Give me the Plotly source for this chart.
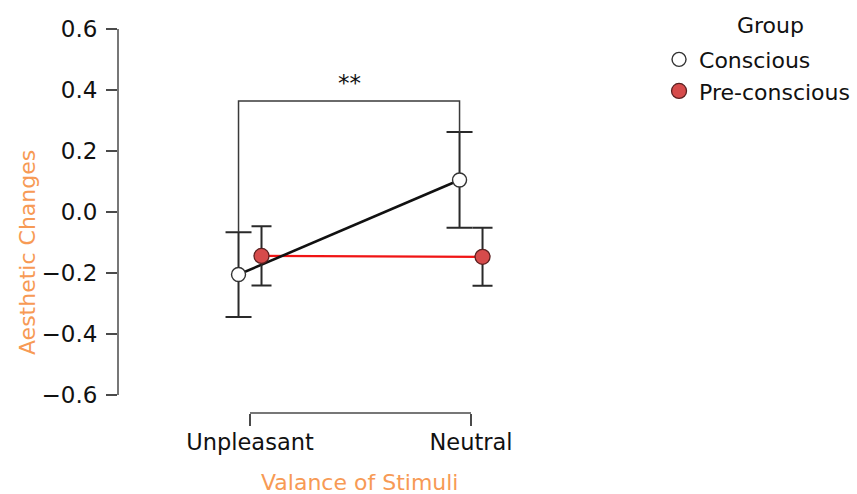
import plotly.graph_objects as go

# Valence conditions and group means with error bar half-widths
categories = ["Unpleasant", "Neutral"]
groups = ["Conscious", "Pre-conscious"]
legend_title = "Group"
conscious_mean = [-0.205, 0.105]
conscious_err = [0.139, 0.157]
preconscious_mean = [-0.144, -0.147]
preconscious_err = [0.097, 0.095]
y_ticks = [-0.6, -0.4, -0.2, 0.0, 0.2, 0.4, 0.6]
sig_label = "**"

# styling
FONT = "DejaVu Sans"
ORANGE = "#f79a55"
AXIS = "#4a4a4a"
RED_FILL = "#d64b4b"
RED_LINE = "#f01414"
DODGE = 0.052
BRACKET_Y = 0.364

cx = list(range(len(categories)))
x_con = [c - DODGE for c in cx]
x_pre = [c + DODGE for c in cx]

fig = go.Figure()

# connecting lines
fig.add_trace(go.Scatter(x=x_pre, y=preconscious_mean, mode="lines",
                         line=dict(color=RED_LINE, width=2.2), showlegend=False,
                         hoverinfo="skip"))
fig.add_trace(go.Scatter(x=x_con, y=conscious_mean, mode="lines",
                         line=dict(color="#111111", width=2.6), showlegend=False,
                         hoverinfo="skip"))

# points with error bars
fig.add_trace(go.Scatter(
    x=x_con, y=conscious_mean, mode="markers", name=groups[0],
    marker=dict(symbol="circle", size=14, color="white",
                line=dict(color="#333333", width=1.4)),
    error_y=dict(type="data", array=conscious_err, color="#2a2a2a",
                 thickness=2, width=13),
))
fig.add_trace(go.Scatter(
    x=x_pre, y=preconscious_mean, mode="markers", name=groups[1],
    marker=dict(symbol="circle", size=15, color=RED_FILL,
                line=dict(color="#5a2020", width=1.3)),
    error_y=dict(type="data", array=preconscious_err, color="#2a2a2a",
                 thickness=2, width=10),
))

shapes = []
# y axis line spanning only the tick range
shapes.append(dict(type="line", xref="paper", yref="y", x0=0, x1=0,
                   y0=y_ticks[0], y1=y_ticks[-1],
                   line=dict(color=AXIS, width=1.5)))
# x axis line spanning only the categories
shapes.append(dict(type="line", xref="x", yref="paper", x0=cx[0], x1=cx[-1],
                   y0=0, y1=0, line=dict(color=AXIS, width=1.5)))
# significance bracket between conscious Unpleasant and Neutral
left_top = conscious_mean[0] + conscious_err[0]
right_top = conscious_mean[1] + conscious_err[1]
shapes.append(dict(type="path", xref="x", yref="y",
                   path=f"M {x_con[0]} {left_top} L {x_con[0]} {BRACKET_Y} "
                        f"L {x_con[1]} {BRACKET_Y} L {x_con[1]} {right_top}",
                   line=dict(color="#3a3a3a", width=1.5)))

annotations = [
    dict(text=sig_label, x=(x_con[0] + x_con[1]) / 2, y=BRACKET_Y, xref="x", yref="y",
         yanchor="bottom", yshift=3, showarrow=False,
         font=dict(family=FONT, size=23, color="#111111")),
    dict(text="Aesthetic Changes", textangle=-90, xref="paper", yref="paper",
         x=0, xshift=-91, y=0.407, xanchor="center", yanchor="middle",
         showarrow=False, font=dict(family=FONT, size=22, color=ORANGE)),
    dict(text="Valance of Stimuli", xref="paper", yref="paper",
         x=0.482, y=0, yshift=-69, xanchor="center", yanchor="middle",
         showarrow=False, font=dict(family=FONT, size=22, color=ORANGE)),
    dict(text=legend_title, xref="paper", yref="paper",
         x=(770 - 118) / 502, y=1, yshift=-5, xanchor="center", yanchor="middle",
         showarrow=False, font=dict(family=FONT, size=22, color="#111111")),
]

fig.update_layout(
    width=857, height=494,
    margin=dict(l=118, r=237, t=20, b=81),
    paper_bgcolor="white", plot_bgcolor="white",
    font=dict(family=FONT, size=22, color="#111111"),
    shapes=shapes, annotations=annotations,
    xaxis=dict(range=[-0.5973, 1.674], tickvals=cx, ticktext=categories,
               showline=False, showgrid=False, zeroline=False,
               ticks="outside", ticklen=12, tickwidth=1.5, tickcolor=AXIS,
               ticklabelstandoff=-3,
               tickfont=dict(family=FONT, size=22.5, color="#111111")),
    yaxis=dict(range=[-0.659, 0.6295], tickvals=y_ticks, tickformat=".1f",
               showline=False, showgrid=False, zeroline=False,
               ticks="outside", ticklen=11, tickwidth=1.5, tickcolor=AXIS,
               ticklabelstandoff=4,
               tickfont=dict(family=FONT, size=23, color="#111111")),
    legend=dict(xref="container", yref="container", x=0.769, y=0.922,
                xanchor="left", yanchor="top", bgcolor="rgba(0,0,0,0)",
                font=dict(family=FONT, size=22, color="#111111"),
                tracegroupgap=0, itemwidth=30),
)

fig.write_html("out.html")
